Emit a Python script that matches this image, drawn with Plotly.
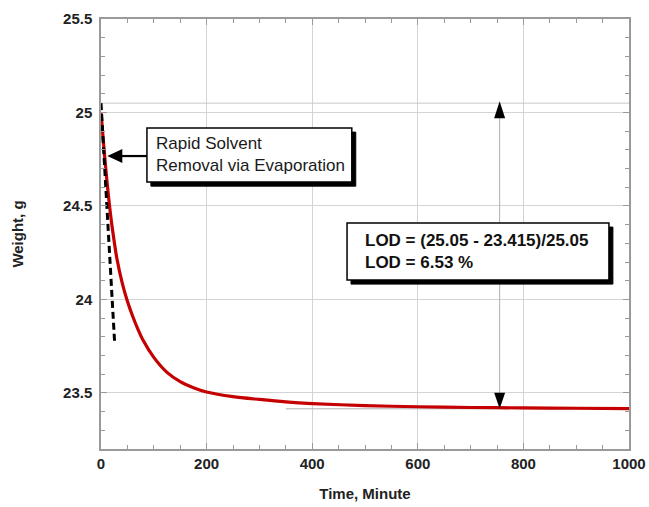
import plotly.graph_objects as go

# ---- data ----
time_min = [0, 5, 10, 15, 20, 25, 30, 40, 50, 60, 70, 80, 100, 125, 150, 175, 200,
            250, 300, 350, 400, 500, 600, 700, 800, 900, 1000]
weight_g = [25.00, 24.83, 24.67, 24.53, 24.41, 24.31, 24.22, 24.09, 23.99, 23.91, 23.84,
            23.78, 23.69, 23.61, 23.56, 23.528, 23.505,
            23.48, 23.465, 23.452, 23.443, 23.432, 23.426, 23.422, 23.42, 23.418, 23.416]

tangent_t = [0, 26]
tangent_w = [25.05, 23.76]

w_initial = 25.05
w_final = 23.415
final_line_t = [350, 1000]
lod_arrow_t = 755

label_rapid = "Rapid Solvent<br>Removal via Evaporation"
label_lod = "<b>LOD = (25.05 - 23.415)/25.05</b><br><b>LOD = 6.53 %</b>"

# annotation box geometry (data units)
rapid_box = dict(x0=87, x1=475, y0=24.628, y1=24.917)
rapid_text = dict(x=100, y=24.775)
rapid_arrow = dict(tip_t=12, tip_w=24.767, tail_t=87)
lod_box = dict(x0=466, x1=962, y0=24.104, y1=24.409)
lod_text = dict(x=496, y=24.259)
shadow_dt, shadow_dw = 7.5, 0.022

FONT = "Liberation Sans, Arial, sans-serif"
GRID = "#d4d4d4"
AXC = "#9a9a9a"

fig = go.Figure()

# reference lines
fig.add_trace(go.Scatter(x=[0, 1000], y=[w_initial, w_initial], mode="lines",
                         line=dict(color="#c8c8c8", width=1), hoverinfo="skip", showlegend=False))
fig.add_trace(go.Scatter(x=final_line_t, y=[w_final, w_final], mode="lines",
                         line=dict(color="#b0b0b0", width=1), hoverinfo="skip", showlegend=False))
fig.add_trace(go.Scatter(x=[lod_arrow_t, lod_arrow_t], y=[w_initial, w_final], mode="lines",
                         line=dict(color="#b0b0b0", width=1), hoverinfo="skip", showlegend=False))

# weight curve
fig.add_trace(go.Scatter(x=time_min, y=weight_g, mode="lines", line_shape="spline",
                         line=dict(color="#c40000", width=3.2, smoothing=0.8), showlegend=False))
# tangent dashed line
fig.add_trace(go.Scatter(x=tangent_t, y=tangent_w, mode="lines",
                         line=dict(color="black", width=3, dash="7px,4px"), showlegend=False))

shapes = []
# arrowheads of LOD span (pixel-sized paths anchored at data points)
shapes.append(dict(type="path", xref="x", yref="y", xsizemode="pixel", ysizemode="pixel",
                   xanchor=lod_arrow_t, yanchor=w_initial, path="M0,2 L-5.5,-15 L5.5,-15 Z",
                   fillcolor="black", line=dict(width=0), layer="above"))
shapes.append(dict(type="path", xref="x", yref="y", xsizemode="pixel", ysizemode="pixel",
                   xanchor=lod_arrow_t, yanchor=w_final, path="M0,0 L-5.5,16 L5.5,16 Z",
                   fillcolor="black", line=dict(width=0), layer="above"))

# boxes: shadow + box
for b in (rapid_box, lod_box):
    shapes.append(dict(type="rect", xref="x", yref="y",
                       x0=b["x0"] + shadow_dt, x1=b["x1"] + shadow_dt,
                       y0=b["y0"] - shadow_dw, y1=b["y1"] - shadow_dw,
                       fillcolor="black", line=dict(color="black", width=1), layer="above"))
    shapes.append(dict(type="rect", xref="x", yref="y", **b,
                       fillcolor="white", line=dict(color="black", width=1.5), layer="above"))

# arrow from rapid box to curve
shapes.append(dict(type="line", xref="x", yref="y", x0=rapid_arrow["tail_t"], x1=rapid_arrow["tip_t"] + 20,
                   y0=rapid_arrow["tip_w"], y1=rapid_arrow["tip_w"],
                   line=dict(color="black", width=2.2), layer="above"))
shapes.append(dict(type="path", xref="x", yref="y", xsizemode="pixel", ysizemode="pixel",
                   xanchor=rapid_arrow["tip_t"], yanchor=rapid_arrow["tip_w"],
                   path="M0,0 L15,7 L15,-7 Z",
                   fillcolor="black", line=dict(width=0), layer="above"))

fig.update_layout(shapes=shapes)

fig.add_annotation(x=rapid_text["x"], y=rapid_text["y"], xanchor="left", yanchor="middle",
                   text=label_rapid, showarrow=False, align="left",
                   font=dict(family=FONT, size=17, color="#1a1a1a"))
fig.add_annotation(x=lod_text["x"], y=lod_text["y"], xanchor="left", yanchor="middle",
                   text=label_lod, showarrow=False, align="left",
                   font=dict(family=FONT, size=17, color="#111"))

axis_common = dict(showline=True, linecolor=AXC, linewidth=1.5, mirror="ticks",
                   ticks="inside", ticklen=6, tickcolor=AXC, showgrid=True, gridcolor=GRID,
                   gridwidth=1, zeroline=False, automargin=False,
                   tickfont=dict(family=FONT, size=15, color="#222", weight="bold"))

fig.update_xaxes(range=[0, 1000], dtick=200, tick0=0,
                 minor=dict(dtick=50, ticks="inside", ticklen=4, tickcolor=AXC, showgrid=False),
                 title=dict(text="<b>Time, Minute</b>", font=dict(family=FONT, size=15, color="#222"),
                            standoff=18),
                 **axis_common)
fig.update_yaxes(range=[23.2, 25.5], dtick=0.5, tick0=0,
                 minor=dict(dtick=0.1, ticks="inside", ticklen=4, tickcolor=AXC, showgrid=False),
                 title=dict(text="<b>Weight, g</b>", font=dict(family=FONT, size=15, color="#222"),
                            standoff=36),
                 ticklabelstandoff=4,
                 **axis_common)

fig.update_layout(width=649, height=507, autosize=False,
                  margin=dict(l=101, r=20, t=19, b=58),
                  paper_bgcolor="white", plot_bgcolor="white",
                  font=dict(family=FONT))

fig.write_html("out.html")
